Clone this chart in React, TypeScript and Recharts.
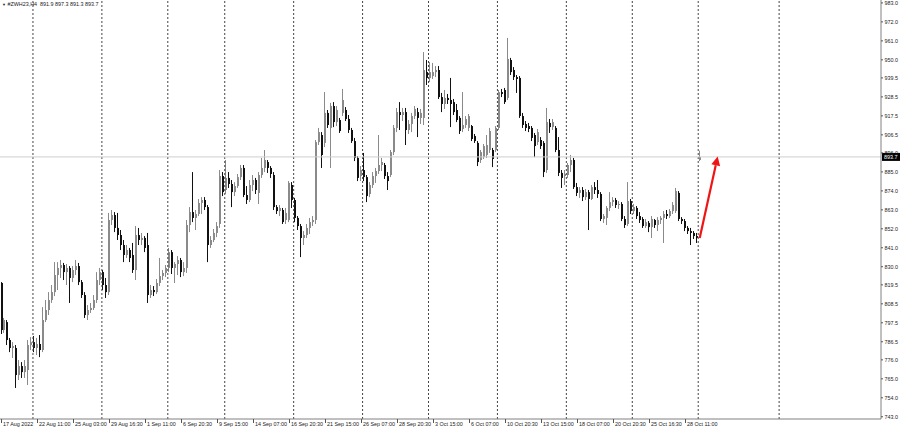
import React from 'react';
import { ComposedChart, Bar, XAxis, YAxis, ReferenceLine } from 'recharts';

const symbolTitle = '#ZWH23,H4';
const lastBar = [891.9, 897.3, 891.3, 893.7];
const lastPrice = 893.7;

const opens = [
  820.6, 793.3, 797.9, 787.5, 782.9, 782.9, 767.2, 772.4, 768.9, 770.1,
  784.6, 786.3, 782.9, 785.2, 781.7, 799.1, 804.9, 810.7, 815.3, 825.2,
  829.3, 831.0, 826.9, 829.3, 823.5, 828.1, 830.4, 821.1, 813.6, 802.0,
  804.9, 806.1, 810.7, 822.3, 826.9, 819.4, 815.3, 857.1, 860.0, 852.5,
  848.4, 842.6, 836.8, 839.7, 836.8, 828.1, 848.4, 845.5, 846.7, 842.6,
  813.6, 816.5, 815.3, 820.6, 824.6, 826.4, 829.3, 838.5, 829.3, 831.6,
  833.9, 826.9, 829.3, 854.2, 861.7, 858.3, 860.6, 867.0, 868.7, 864.6,
  842.6, 845.5, 849.6, 854.8, 882.6, 874.5, 881.5, 878.0, 873.3, 876.8,
  882.0, 887.3, 871.6, 868.7, 877.4, 880.3, 872.8, 883.2, 887.3, 890.7,
  887.3, 883.2, 864.6, 862.3, 862.9, 857.1, 857.1, 877.4, 868.7, 858.3,
  853.6, 846.7, 848.4, 852.5, 855.9, 857.1, 902.3, 906.4, 901.8, 919.2,
  910.5, 923.2, 913.9, 915.1, 919.2, 920.9, 915.7, 909.3, 902.9, 893.1,
  882.6, 886.1, 882.0, 872.2, 877.4, 882.6, 885.5, 889.0, 889.0, 882.6,
  883.2, 896.5, 910.5, 919.7, 918.0, 919.7, 909.3, 912.8, 917.4, 919.7,
  916.3, 916.3, 942.9, 939.5, 940.6, 942.9, 944.1, 928.4, 924.4, 927.9,
  926.7, 925.5, 920.9, 916.3, 909.9, 912.2, 910.5, 911.6, 905.8, 901.8,
  891.9, 893.6, 894.8, 897.7, 897.7, 897.7, 910.5, 931.3, 932.5, 927.9,
  949.9, 944.1, 940.0, 939.5, 917.4, 912.8, 911.6, 910.5, 906.4, 902.3,
  903.5, 901.8, 886.1, 913.4, 911.0, 910.5, 897.7, 884.4, 882.6, 883.2,
  889.0, 891.9, 876.2, 872.8, 874.5, 870.4, 873.3, 869.3, 876.2, 874.5,
  872.2, 857.7, 858.3, 864.1, 867.5, 868.7, 865.8, 866.4, 857.7, 854.8,
  868.1, 862.3, 864.1, 859.4, 857.7, 853.6, 855.4, 853.0, 857.1, 854.2,
  857.1, 858.3, 860.6, 859.4, 862.3, 862.3, 872.8, 857.7, 856.5, 852.5,
  850.7, 849.6, 847.8, lastBar[0],
];

const highs = [
  821.1, 800.3, 799.1, 788.7, 786.3, 784.6, 775.9, 774.7, 775.9, 787.5,
  789.2, 789.8, 788.7, 790.4, 806.6, 810.7, 815.3, 819.4, 832.7, 832.7,
  833.9, 832.2, 831.6, 830.4, 830.4, 833.9, 832.2, 822.3, 815.3, 807.8,
  809.0, 813.6, 826.9, 829.3, 828.1, 823.5, 861.2, 862.9, 861.7, 861.2,
  851.3, 845.5, 842.6, 840.9, 843.8, 853.6, 852.5, 849.6, 847.8, 849.6,
  819.4, 818.8, 822.9, 835.1, 828.1, 831.0, 840.9, 839.7, 832.7, 836.2,
  835.1, 832.7, 857.1, 864.6, 884.9, 862.9, 869.3, 870.4, 870.4, 865.8,
  847.8, 851.9, 855.9, 886.1, 884.9, 891.9, 884.9, 880.3, 879.1, 883.8,
  889.0, 889.0, 876.8, 880.3, 883.2, 881.5, 884.9, 893.1, 897.7, 891.9,
  888.4, 884.9, 865.8, 865.8, 864.1, 864.1, 879.7, 879.1, 869.9, 859.4,
  854.8, 850.7, 854.8, 858.3, 859.4, 903.5, 910.5, 908.1, 931.3, 920.9,
  925.0, 925.5, 923.2, 916.3, 933.1, 922.6, 918.0, 910.5, 904.7, 894.2,
  888.4, 896.0, 883.2, 879.1, 884.9, 887.3, 906.4, 893.1, 890.2, 884.9,
  897.7, 912.2, 922.1, 925.5, 922.1, 922.1, 915.1, 919.2, 923.2, 922.1,
  921.5, 954.5, 949.9, 948.7, 948.2, 946.4, 946.4, 930.8, 932.5, 930.2,
  939.5, 927.3, 924.4, 917.4, 931.3, 917.4, 918.6, 912.2, 907.0, 902.9,
  897.7, 901.2, 906.4, 910.5, 898.9, 911.6, 932.5, 933.1, 933.7, 962.7,
  951.1, 945.8, 941.2, 940.6, 919.2, 914.5, 913.4, 911.6, 907.6, 909.9,
  905.2, 902.9, 922.1, 915.7, 915.7, 911.6, 905.2, 886.1, 886.1, 890.2,
  894.8, 893.1, 878.6, 876.2, 876.2, 875.1, 874.5, 877.4, 879.1, 880.3,
  873.3, 860.6, 865.2, 873.3, 870.4, 869.9, 868.1, 867.5, 859.4, 879.1,
  869.3, 866.4, 865.2, 861.7, 858.8, 857.7, 856.5, 859.4, 857.7, 858.8,
  859.4, 862.3, 862.9, 863.5, 867.5, 875.7, 873.9, 858.8, 857.7, 853.6,
  852.5, 850.7, 849.6, lastBar[1],
];

const lows = [
  791.0, 791.6, 784.6, 780.5, 777.1, 759.7, 764.3, 765.5, 765.5, 761.4,
  781.7, 780.5, 778.8, 777.6, 780.5, 797.9, 802.0, 809.0, 813.0, 816.5,
  823.5, 822.3, 819.4, 809.0, 821.1, 825.2, 819.4, 811.9, 800.3, 799.1,
  803.2, 804.9, 809.0, 819.4, 816.5, 811.9, 813.6, 854.2, 850.1, 845.5,
  839.7, 832.7, 835.1, 832.7, 826.4, 822.3, 842.6, 842.6, 838.5, 809.0,
  811.9, 813.0, 814.2, 818.8, 822.3, 824.0, 826.9, 825.8, 820.6, 825.2,
  824.0, 824.6, 826.4, 850.1, 855.9, 851.3, 859.4, 860.6, 862.9, 832.7,
  840.9, 844.3, 847.2, 852.5, 871.0, 872.2, 875.7, 864.6, 871.0, 875.7,
  880.3, 870.4, 866.4, 867.5, 873.9, 872.2, 866.4, 881.5, 884.9, 884.4,
  881.5, 862.9, 860.6, 859.4, 854.8, 854.8, 855.9, 864.1, 855.9, 851.3,
  835.6, 842.6, 846.7, 849.0, 853.6, 854.8, 900.6, 887.3, 899.4, 910.5,
  887.3, 911.0, 911.6, 907.6, 917.4, 914.5, 907.6, 901.8, 891.3, 879.7,
  879.7, 879.7, 867.5, 870.4, 875.7, 878.6, 883.8, 885.5, 880.9, 874.5,
  882.0, 894.8, 908.1, 909.3, 914.5, 900.6, 907.0, 908.1, 915.7, 905.2,
  912.8, 912.2, 935.4, 937.1, 938.9, 940.0, 927.3, 919.7, 921.5, 924.4,
  911.0, 918.0, 913.9, 907.0, 908.1, 910.5, 908.7, 902.9, 901.8, 888.4,
  890.2, 892.5, 893.1, 896.0, 887.8, 896.5, 909.3, 928.4, 924.4, 926.7,
  941.2, 938.3, 930.8, 916.3, 910.5, 908.7, 908.1, 902.9, 893.6, 900.6,
  898.3, 882.0, 884.4, 907.6, 909.3, 896.5, 882.6, 875.7, 877.4, 881.5,
  884.9, 875.1, 871.0, 869.9, 868.1, 868.7, 851.3, 868.7, 872.2, 869.9,
  856.5, 855.4, 854.2, 862.3, 865.2, 864.1, 863.5, 856.5, 852.5, 853.6,
  860.6, 860.6, 857.7, 855.4, 852.5, 852.5, 850.1, 846.7, 852.5, 850.7,
  854.8, 843.8, 857.7, 858.3, 860.6, 861.2, 856.5, 854.8, 850.7, 849.0,
  842.6, 846.1, 843.8, lastBar[2],
];

const closes = [
  793.3, 799.1, 787.5, 782.9, 784.0, 767.2, 772.4, 768.9, 772.4, 784.6,
  786.3, 782.9, 785.2, 781.7, 799.1, 804.9, 810.7, 815.3, 825.2, 829.3,
  831.0, 826.9, 829.3, 823.5, 828.1, 830.4, 821.1, 813.6, 802.0, 804.9,
  806.1, 810.7, 822.3, 826.9, 819.4, 815.3, 857.1, 860.0, 852.5, 848.4,
  842.6, 836.8, 839.7, 835.1, 828.1, 848.4, 845.5, 846.7, 840.9, 813.6,
  816.5, 815.3, 820.6, 824.6, 826.4, 829.3, 838.5, 829.3, 831.6, 833.9,
  826.9, 829.3, 854.2, 861.7, 858.3, 860.6, 867.0, 868.7, 864.6, 842.6,
  845.5, 849.6, 853.6, 882.6, 873.3, 881.5, 878.0, 873.3, 876.8, 882.0,
  887.3, 871.6, 868.7, 877.4, 880.3, 874.5, 883.2, 887.3, 891.9, 887.3,
  883.8, 864.6, 862.3, 864.1, 855.9, 861.2, 878.6, 868.7, 858.3, 853.6,
  846.7, 848.4, 852.5, 855.9, 857.1, 902.3, 908.1, 894.8, 919.2, 912.2,
  923.2, 913.9, 920.9, 908.7, 926.7, 915.7, 909.3, 902.9, 893.1, 881.5,
  886.1, 882.0, 871.0, 877.4, 882.6, 885.5, 889.0, 890.7, 882.6, 879.7,
  896.5, 910.5, 919.7, 918.0, 919.7, 909.3, 912.8, 917.4, 921.5, 916.3,
  919.2, 944.1, 939.5, 942.9, 942.9, 944.1, 928.4, 924.4, 927.9, 926.7,
  924.4, 919.7, 915.1, 908.7, 912.2, 915.7, 917.4, 904.1, 902.9, 890.7,
  896.5, 900.0, 900.6, 908.7, 892.5, 910.5, 931.3, 930.2, 925.5, 950.5,
  942.9, 940.0, 938.9, 917.4, 912.2, 910.5, 909.9, 904.7, 900.0, 908.1,
  900.0, 884.9, 913.9, 911.0, 913.9, 897.7, 884.4, 881.5, 883.8, 889.0,
  891.9, 876.2, 872.8, 874.5, 870.4, 873.3, 869.3, 876.2, 874.5, 872.2,
  857.7, 859.4, 864.1, 867.5, 868.7, 865.8, 866.4, 857.7, 854.2, 868.1,
  862.3, 864.6, 859.4, 857.1, 853.6, 855.9, 853.0, 857.7, 854.2, 857.1,
  858.3, 860.6, 859.4, 862.3, 865.8, 873.9, 857.7, 856.5, 852.5, 850.7,
  849.6, 847.8, 846.7, lastBar[3],
];

const timeLabels = [
  '17 Aug 2022', '22 Aug 11:00', '25 Aug 03:00', '29 Aug 16:30', '1 Sep 11:00',
  '6 Sep 20:30', '9 Sep 15:00', '14 Sep 07:00', '16 Sep 20:30', '21 Sep 15:00',
  '26 Sep 07:00', '28 Sep 20:30', '3 Oct 15:00', '6 Oct 07:00', '10 Oct 20:30',
  '13 Oct 15:00', '18 Oct 07:00', '20 Oct 20:30', '25 Oct 16:30', '28 Oct 11:00',
];
const labelStep = 12;
const separatorIdx = [10, 33, 55, 74, 97, 120, 142, 165, 188, 210, 232, 259];
const priceTicks = [983, 972, 961, 950, 939.5, 928.5, 917.5, 906.5, 896, 885, 874, 863, 852, 841, 830, 819.5, 808.5, 797.5, 786.5, 776, 765, 754, 743];
const totalSlots = 294;
const arrowFrom = { idx: 233, price: 846.7 };
const arrowTo = { idx: 239, price: 894.0 };

const labelIdx = timeLabels.map((_, k) => k * labelStep);

const data = Array.from({ length: totalSlots }, (_, i) =>
  i < opens.length
    ? { idx: i, o: opens[i], h: highs[i], l: lows[i], c: closes[i], range: [lows[i], highs[i]] }
    : { idx: i }
);

const FONT = '"Liberation Sans", Arial, sans-serif';

const Candle = (props: any) => {
  const { x, y, width, height, payload } = props;
  if (!payload || payload.o == null || x == null || y == null) return null;
  const { o, h, l, c } = payload;
  const top = Math.min(y, y + height);
  const hh = Math.abs(height);
  const span = h - l || 1;
  const toY = (v: number) => top + ((h - v) / span) * hh;
  const cx = Math.round(x + width / 2);
  const bull = c >= o;
  const col = bull ? '#8a8a8a' : '#111111';
  const bTop = toY(Math.max(o, c));
  const bBot = toY(Math.min(o, c));
  return (
    <g>
      <rect x={cx - 1} y={top} width={1} height={Math.max(hh, 1)} fill={col} />
      <rect x={cx - 1} y={bTop} width={2} height={Math.max(bBot - bTop, 1)} fill={col} />
    </g>
  );
};

const TimeTick = (props: any) => {
  const { x, y, payload } = props;
  const k = Math.round(payload.value / labelStep);
  const txt = timeLabels[k];
  if (txt == null) return null;
  const tx = Math.round(x) + 0.5;
  return (
    <g>
      <line x1={tx} x2={tx} y1={y} y2={y + 4} stroke="#555" strokeWidth={1} />
      <text x={tx + 1.5} y={y + 6.5} fontSize={5.4} fontFamily={FONT} fill="#222">{txt}</text>
    </g>
  );
};

const PriceTick = (props: any) => {
  const { x, y, payload } = props;
  return (
    <g>
      <line x1={x} x2={x + 2} y1={y} y2={y} stroke="#555" strokeWidth={1} />
      <text x={x + 3.5} y={y + 1.9} fontSize={5.4} fontFamily={FONT} fill="#222">{Number(payload.value).toFixed(1)}</text>
    </g>
  );
};

const PriceTag = (props: any) => {
  const vb = props.viewBox || {};
  const x0 = (vb.x || 0) + (vb.width || 0) + 1;
  const y0 = vb.y || 0;
  return (
    <g>
      <rect x={x0} y={y0 - 4} width={18} height={8} fill="#000" />
      <text x={x0 + 2} y={y0 + 2} fontSize={5.4} fontFamily={FONT} fill="#fff">{lastPrice.toFixed(1)}</text>
    </g>
  );
};

const Arrow = (props: any) => {
  const { x1, y1, x2, y2 } = props;
  if ([x1, y1, x2, y2].some((v) => v == null || isNaN(v))) return null;
  const dx = x2 - x1;
  const dy = y2 - y1;
  const len = Math.sqrt(dx * dx + dy * dy) || 1;
  const ux = dx / len;
  const uy = dy / len;
  const headL = 9;
  const headW = 4.5;
  const bx = x2 - ux * headL;
  const by = y2 - uy * headL;
  const px = -uy;
  const py = ux;
  return (
    <g>
      <line x1={x1} y1={y1} x2={bx} y2={by} stroke="#f01414" strokeWidth={2.2} />
      <polygon
        points={`${x2},${y2} ${bx + px * headW},${by + py * headW} ${bx - px * headW},${by - py * headW}`}
        fill="#f01414"
      />
    </g>
  );
};

export default function App() {
  return (
    <div style={{ position: 'relative', width: 900, height: 431, background: '#fff' }}>
      <style>{'body{margin:0;background:#fff;}'}</style>
      <ComposedChart
        width={900}
        height={431}
        data={data}
        margin={{ top: 0, right: 0, bottom: 0, left: 0 }}
        barCategoryGap={0}
        barGap={0}
      >
        <XAxis
          dataKey="idx"
          type="category"
          height={12}
          ticks={labelIdx}
          interval={0}
          tick={<TimeTick />}
          tickLine={false}
          tickSize={0}
          tickMargin={0}
          axisLine={{ stroke: '#808080', strokeWidth: 1 }}
        />
        <YAxis
          yAxisId={0}
          orientation="right"
          type="number"
          width={19}
          domain={[741.7, 984.7]}
          allowDataOverflow
          ticks={priceTicks}
          interval={0}
          tick={<PriceTick />}
          tickLine={false}
          tickSize={0}
          tickMargin={0}
          axisLine={{ stroke: '#808080', strokeWidth: 1 }}
        />
        {separatorIdx.map((s) => (
          <ReferenceLine key={s} x={s} position="end" stroke="#444" strokeDasharray="2 2" strokeWidth={1} />
        ))}
        <ReferenceLine y={lastPrice} stroke="#cfcfcf" strokeWidth={1} label={<PriceTag />} />
        <Bar dataKey="range" shape={<Candle />} isAnimationActive={false} />
        <ReferenceLine
          segment={[
            { x: arrowFrom.idx, y: arrowFrom.price },
            { x: arrowTo.idx, y: arrowTo.price },
          ]}
          shape={<Arrow />}
          ifOverflow="visible"
        />
      </ComposedChart>
      <div
        style={{
          position: 'absolute',
          left: 2,
          top: 0,
          fontFamily: FONT,
          fontSize: 5.4,
          lineHeight: '8px',
          color: '#222',
          whiteSpace: 'pre',
        }}
      >
        <span style={{ fontSize: 4 }}>▼</span>
        {' ' + symbolTitle + '  ' + lastBar.map((v) => v.toFixed(1)).join(' ')}
      </div>
    </div>
  );
}
